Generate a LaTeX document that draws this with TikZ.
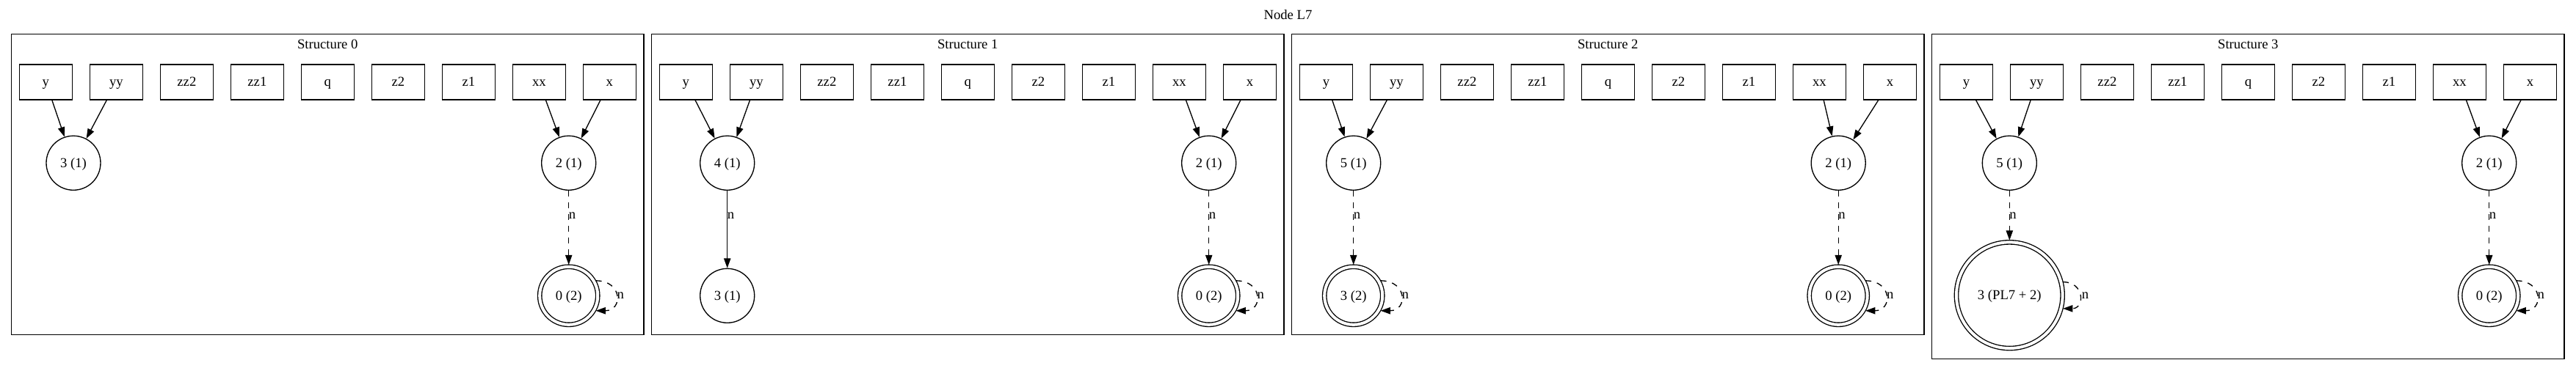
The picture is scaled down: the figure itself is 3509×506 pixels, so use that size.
\documentclass[tikz,border=0pt]{standalone}
\usepackage{fontspec}
\setmainfont{Liberation Serif}
\usetikzlibrary{arrows.meta}
\tikzset{
    every node/.style={font=\fontsize{14pt}{16pt}\selectfont, text height=9pt, text depth=0pt, inner sep=0pt},
    var box/.style={rectangle, draw, line width=1pt, minimum width=54pt, minimum height=36pt},
    state/.style={circle, draw, line width=1pt, minimum size=55.5pt},
    final state/.style={state, double, double distance=3pt, minimum size=59.3pt, outer sep=2pt},
    big final state/.style={final state, minimum size=108.5pt},
    cluster frame/.style={draw, line width=1pt},
    edge/.style={-{Triangle[length=10pt,width=7pt]}, line width=1pt},
    null edge/.style={edge, dash pattern=on 6pt off 6pt},
    edge label/.style={}
}

\begin{document}
\begin{tikzpicture}[x=0.75pt, y=-0.75pt]
    \useasboundingbox (0,0) rectangle (3509,506);

    % Graph title
    \node (title) at (1754.5,20.7) {Node L7};

    % Structure frames, titles and variable boxes
    \foreach \c/\bot in {0/456.7,1/456.7,2/456.7,3/489.3} {
        \draw[cluster frame] ({15.7+872*\c},46.7) rectangle ({877+872*\c},\bot);
        \node (T\c) at ({446.3+872*\c},60.7) {Structure \c};
        \foreach \v [count=\k from 0] in {y,yy,zz2,zz1,q,z2,z1,xx,x} {
            \node[var box] (S\c-\v) at ({62.4+872*\c+96*\k},111.85) {\v};
        }
    }

    % Structure 0
    \node[state] (S0-n3) at (100,222.3) {3 (1)};
    \node[state] (S0-n2) at (774.7,222.3) {2 (1)};
    \node[final state] (S0-n0) at (774.7,403.3) {0 (2)};

    % Structure 1
    \node[state] (S1-n4) at (990.7,222.3) {4 (1)};
    \node[state] (S1-n3) at (990.7,403.3) {3 (1)};
    \node[state] (S1-n2) at (1646.7,222.3) {2 (1)};
    \node[final state] (S1-n0) at (1646.7,403.3) {0 (2)};

    % Structure 2
    \node[state] (S2-n5) at (1843.7,222.3) {5 (1)};
    \node[final state] (S2-n3) at (1843.7,403.3) {3 (2)};
    \node[state] (S2-n2) at (2504.2,222.3) {2 (1)};
    \node[final state] (S2-n0) at (2504.2,403.3) {0 (2)};

    % Structure 3
    \node[state] (S3-n5) at (2737.3,222.3) {5 (1)};
    \node[big final state] (S3-n3) at (2737.3,402.7) {3 (PL7 + 2)};
    \node[state] (S3-n2) at (3390.7,222.3) {2 (1)};
    \node[final state] (S3-n0) at (3390.7,403.3) {0 (2)};

    % Variables pointing to nodes
    \foreach \c/\l in {0/n3,1/n4,2/n5,3/n5} {
        \draw[edge] (S\c-y) -- (S\c-\l);
        \draw[edge] (S\c-yy) -- (S\c-\l);
        \draw[edge] (S\c-xx) -- (S\c-n2);
        \draw[edge] (S\c-x) -- (S\c-n2);
    }

    % Next pointers
    \draw[null edge] (S0-n2) -- (S0-n0);
    \draw[edge] (S1-n4) -- (S1-n3);
    \draw[null edge] (S1-n2) -- (S1-n0);
    \draw[null edge] (S2-n5) -- (S2-n3);
    \draw[null edge] (S2-n2) -- (S2-n0);
    \draw[null edge] (S3-n5) -- (S3-n3);
    \draw[null edge] (S3-n2) -- (S3-n0);

    \node[edge label] (L0-a) at (779.5,292.7) {n};
    \node[edge label] (L1-a) at (995.5,292.7) {n};
    \node[edge label] (L1-b) at (1651.5,292.7) {n};
    \node[edge label] (L2-a) at (1848.5,292.7) {n};
    \node[edge label] (L2-b) at (2509,292.7) {n};
    \node[edge label] (L3-a) at (2742.1,292.7) {n};
    \node[edge label] (L3-b) at (3395.5,292.7) {n};

    % Self loops on summary nodes
    \foreach \s in {S0-n0,S1-n0,S2-n3,S2-n0,S3-n0} {
        \draw[null edge] (\s.29) .. controls +(37,0) and +(37,0) .. (\s.-29);
    }
    \draw[null edge] (S3-n3.14) .. controls +(30,0) and +(30,0) .. (S3-n3.-14);

    \node[edge label] (R0) at (845.2,401.7) {n};
    \node[edge label] (R1) at (1717.2,401.7) {n};
    \node[edge label] (R2-a) at (1914.2,401.7) {n};
    \node[edge label] (R2-b) at (2574.7,401.7) {n};
    \node[edge label] (R3-a) at (2840.5,401.7) {n};
    \node[edge label] (R3-b) at (3461.2,401.7) {n};
\end{tikzpicture}
\end{document}
